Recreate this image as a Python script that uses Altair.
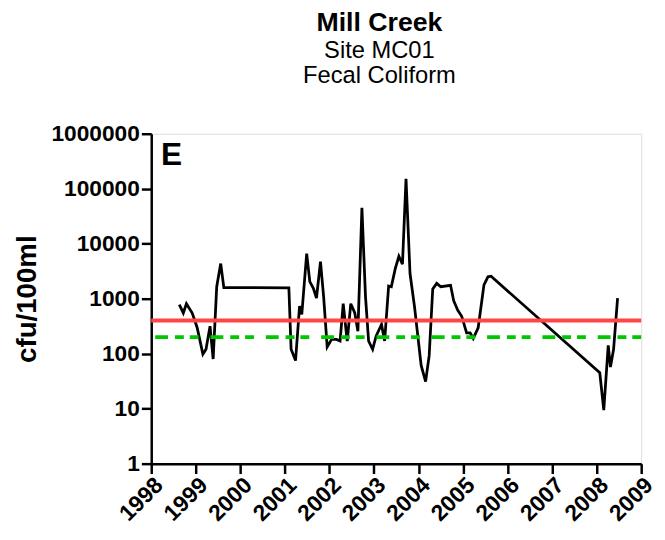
import altair as alt
import pandas as pd

years = [1998.63, 1998.72, 1998.79, 1998.92, 1999.03, 1999.16, 1999.23, 1999.32, 1999.39,
         1999.47, 1999.56, 1999.63, 2001.09, 2001.14, 2001.24, 2001.33, 2001.38, 2001.49,
         2001.56, 2001.64, 2001.71, 2001.80, 2001.87, 2001.95, 2002.05, 2002.16, 2002.24,
         2002.31, 2002.40, 2002.48, 2002.57, 2002.64, 2002.73, 2002.81, 2002.88, 2002.97,
         2003.05, 2003.17, 2003.24, 2003.33, 2003.39, 2003.48, 2003.56, 2003.64, 2003.72,
         2003.81, 2003.91, 2004.06, 2004.16, 2004.24, 2004.32, 2004.41, 2004.50, 2004.72,
         2004.79, 2004.88, 2004.97, 2005.08, 2005.16, 2005.23, 2005.34, 2005.47, 2005.56,
         2005.63, 2008.07, 2008.16, 2008.26, 2008.31, 2008.38, 2008.47]
cfu = [780, 550, 810, 550, 300, 98, 120, 317, 80,
       1650, 4350, 1590, 1580, 120, 75, 730, 516, 6600,
       2040, 1550, 1030, 4700, 1100, 133, 182, 182, 170,
       810, 170, 810, 550, 257, 45000, 1100, 170, 120,
       210, 340, 170, 1700, 1650, 3550, 5900, 4230, 152000,
       2870, 725, 61, 31, 92, 1500, 1900, 1650, 1750,
       920, 620, 480, 240, 240, 190, 296, 1780, 2500,
       2560, 45, 9.4, 142, 57, 120, 1020]

year_ticks = list(range(1998, 2010))
y_ticks = [1, 10, 100, 1000, 10000, 100000, 1000000]
limit_single = [400]
limit_geomean = [200]

df = pd.DataFrame({"year": years, "cfu": cfu, "idx": list(range(len(years)))})
df_red = pd.DataFrame({"v": limit_single})
df_green = pd.DataFrame({"v": limit_geomean})

FONT = "Liberation Sans"
LOG = alt.Scale(type="log", domain=[1, 1000000], nice=False)

x_enc = alt.X("year:Q",
              scale=alt.Scale(domain=[1998, 2009], nice=False, zero=False),
              axis=alt.Axis(values=year_ticks, format="d", title=None, labelAngle=-45,
                            labelAlign="right", labelBaseline="top", labelPadding=0,
                            labelFontSize=23, labelFontWeight="bold", labelFont=FONT,
                            labelColor="black", domainColor="black", domainWidth=2.5,
                            tickColor="black", tickWidth=2.5, tickSize=10, grid=False,
                            labelOverlap=False, labelFlush=False, labelBound=False))
y_enc = alt.Y("cfu:Q", scale=LOG,
              axis=alt.Axis(values=y_ticks, format="d", title="cfu/100ml",
                            titleFontSize=28, titleFontWeight="bold", titleFont=FONT,
                            titleColor="black", titlePadding=10,
                            labelFontSize=23, labelFontWeight="bold", labelFont=FONT,
                            labelColor="black", labelPadding=2,
                            domainColor="black", domainWidth=2.5,
                            tickColor="black", tickWidth=2.5, tickSize=10, grid=False,
                            labelOverlap=False, labelFlush=False, labelBound=False))

line = alt.Chart(df).mark_line(color="black", strokeWidth=2.8, clip=True).encode(
    x=x_enc, y=y_enc, order="idx:Q")

red = alt.Chart(df_red).mark_rule(color="#ff4646", strokeWidth=4).encode(
    y=alt.Y("v:Q", scale=LOG))

green = alt.Chart(df_green).mark_rule(color="#00c800", strokeWidth=4,
                                      strokeDash=[9, 6, 9, 7, 13, 12]).encode(
    y=alt.Y("v:Q", scale=LOG))

letter = alt.Chart(pd.DataFrame({"t": ["E"]})).mark_text(
    font=FONT, fontSize=32, fontWeight="bold", color="black",
    align="left", baseline="alphabetic").encode(
    x=alt.value(10), y=alt.value(32), text="t:N")

chart = alt.layer(line, red, green, letter).properties(
    width=496, height=334,
    autosize=alt.AutoSizeParams(type="none"),
    padding={"left": 145, "top": 124, "right": 16, "bottom": 74},
    title=alt.TitleParams(
        text="Mill Creek", subtitle=["Site MC01", "Fecal Coliform"],
        font=FONT, fontSize=27, fontWeight="bold", color="black",
        subtitleFont=FONT, subtitleFontSize=24, subtitleColor="black",
        subtitleLineHeight=26, subtitlePadding=2,
        anchor="middle", frame="group", dx=-17, offset=34),
).configure_view(stroke=None).configure(background="white")

chart.save("out.html", embed_options={"renderer": "svg", "actions": False})
